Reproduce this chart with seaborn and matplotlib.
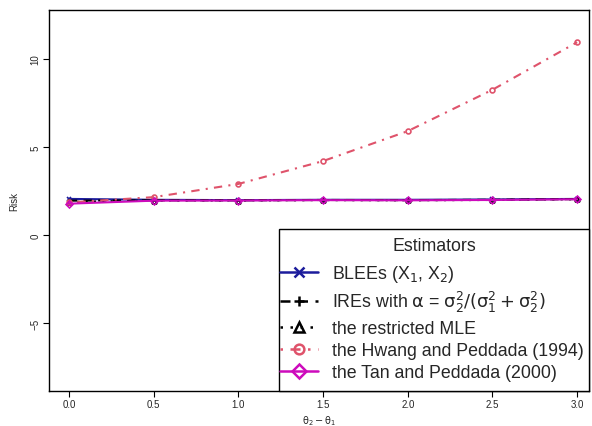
import numpy as np
import pandas as pd
import matplotlib
matplotlib.use("Agg")
import matplotlib.pyplot as plt
from matplotlib.lines import Line2D
from matplotlib.patches import Rectangle
import seaborn as sns

sns.set_style("ticks")
plt.rcParams['font.family'] = ['Liberation Sans', 'DejaVu Sans']
plt.rcParams['mathtext.fontset'] = 'dejavusans'

theta_diff = [0.0, 0.5, 1.0, 1.5, 2.0, 2.5, 3.0]
blee = [2.05, 2.0, 1.98, 2.0, 2.0, 2.02, 2.05]
ire = [1.95, 1.97, 1.97, 1.99, 1.98, 2.0, 2.04]
mle = [1.88, 1.96, 1.96, 1.98, 1.97, 1.99, 2.03]
hwang = [1.85, 2.15, 2.9, 4.2, 5.9, 8.25, 10.95]
tan = [1.78, 1.95, 1.96, 1.98, 1.97, 1.99, 2.03]

labels = ['BLEEs (X$_1$, X$_2$)',
          r'IREs with $\mathrm{\alpha}$ = $\mathrm{\sigma_2^2/(\sigma_1^2+\sigma_2^2)}$',
          'the restricted MLE',
          'the Hwang and Peddada (1994)',
          'the Tan and Peddada (2000)']

series = [blee, ire, mle, hwang, tan]
colors = ['#1C1C9C', '#000000', '#000000', '#DF536B', '#CD0BBC']
styles = ['-', (0, (4, 3)), (0, (1, 3)), (0, (1, 3, 4, 3)), '-']
markers = ['x', '+', '^', 'o', 'D']
mfc = [None, None, 'none', 'none', 'none']

fig = plt.figure(figsize=(5.92, 4.27), dpi=100)
ax = fig.add_axes([49/592, 35/427, 540/592, 381/427])

for s, c, ls, m, f in zip(series, colors, styles, markers, mfc):
    df = pd.DataFrame({'x': theta_diff, 'y': s})
    kw = dict(marker=m, markersize=3.5, markeredgewidth=1.2, color=c, linewidth=1.5,
              markeredgecolor=c)
    kw['markerfacecolor'] = f if f is not None else c
    sns.lineplot(data=df, x='x', y='y', ax=ax, **kw)
    ax.lines[-1].set_linestyle(ls)

ax.set_xlim(-0.118, 3.07)
ax.set_ylim(-8.86, 12.78)
ax.set_xticks(theta_diff)
ax.set_xticklabels([f"{v:.1f}" for v in theta_diff], fontsize=7)
ax.set_yticks([-5, 0, 5, 10])
ax.set_yticklabels(['\u22125', '0', '5', '10'], fontsize=7, rotation=90, va='center')
ax.tick_params(axis='both', direction='out', length=4, width=0.8, color='black',
               bottom=True, left=True, pad=2)
for sp in ax.spines.values():
    sp.set_visible(True)
    sp.set_color('black')
    sp.set_linewidth(1.0)
ax.set_xlabel(r'$\mathrm{\theta_2-\theta_1}$', fontsize=7, labelpad=3)
ax.set_ylabel('Risk', fontsize=7, labelpad=8)

handles = []
for c, ls, m, f in zip(colors, styles, markers, mfc):
    h = Line2D([], [], color=c, linestyle=ls, linewidth=1.8, marker=m, markersize=7,
               markeredgewidth=1.8, markeredgecolor=c, markerfacecolor=(f if f else c))
    handles.append(h)

box_left = 0.426
box_top = 0.425
ax.add_patch(Rectangle((box_left, 0), 1 - box_left, box_top, transform=ax.transAxes,
                       facecolor='white', edgecolor='black', linewidth=1.0, zorder=4,
                       clip_on=False))
ax.text((box_left + 1) / 2, 0.383, 'Estimators', transform=ax.transAxes, fontsize=12.8,
        ha='center', va='center', zorder=6)
leg = ax.legend(handles, labels, loc='upper right',
                bbox_to_anchor=(0.99, 0.336), fontsize=12.8,
                frameon=False, borderaxespad=0,
                handlelength=2.1, labelspacing=0.3, borderpad=0.0, handletextpad=0.8)
leg.set_zorder(5)

fig.savefig('out.png', dpi=100)
